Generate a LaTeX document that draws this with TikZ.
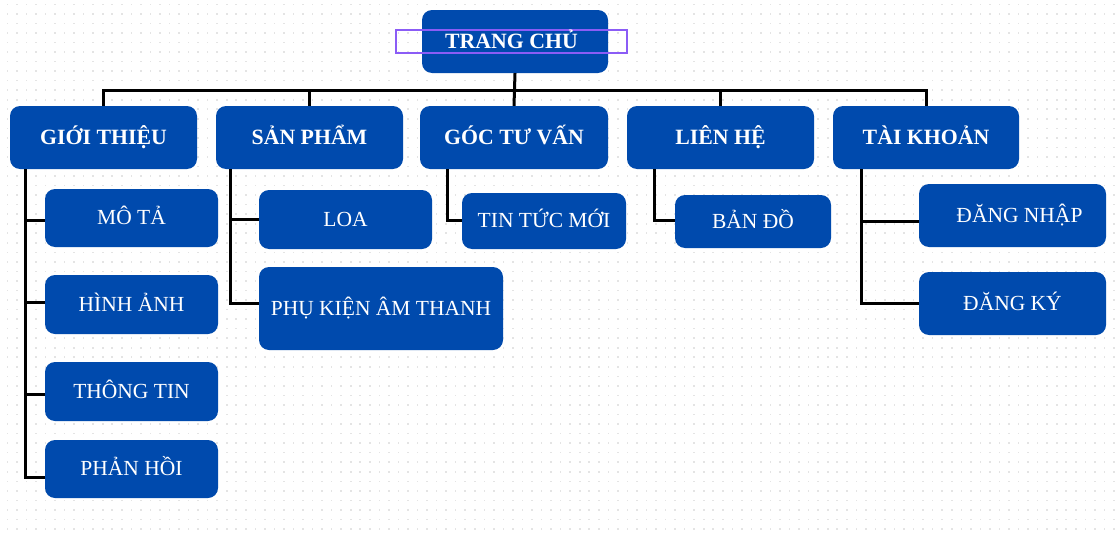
\documentclass[tikz,border=0pt]{standalone}
\usepackage{fontspec}
\setmainfont{Liberation Serif}
\definecolor{boxblue}{RGB}{0,74,173}
\definecolor{selviolet}{RGB}{139,92,246}
\definecolor{dotc}{RGB}{228,228,228}
\tikzset{
  box/.style={fill=boxblue, rounded corners=10pt, inner sep=0pt, text=white, align=center},
  lvl/.style={box, font=\fontsize{21.8}{24}\selectfont\bfseries, text height=14.5pt, text depth=0pt},
  sub/.style={box, font=\fontsize{21.5}{24}\selectfont, text height=13pt, text depth=0pt},
  conn/.style={draw=black, line width=3pt},
  sel/.style={draw=selviolet, line width=2pt, inner sep=0pt}
}
\begin{document}
\begin{tikzpicture}[x=1pt,y=1pt]
\useasboundingbox (0,0) rectangle (1120,-538);
\fill[white] (0,0) rectangle (1120,-538);
% dot grid
\foreach \i in {0,...,116}{
  \foreach \j in {0,...,55}{
    \fill[dotc] ({6.5+9.54*\i},{-3.5-9.54*\j}) rectangle ++(1.6,-1.6);
  }
}
% boxes
\node[lvl, minimum width=186, minimum height=63] (top) at (515,-41.5) {};
\node[lvl, minimum width=187, minimum height=63] (gt) at (103.5,-137.5) {GIỚI THIỆU};
\node[lvl, minimum width=187, minimum height=63] (sp) at (309.5,-137.5) {SẢN PHẨM};
\node[lvl, minimum width=188, minimum height=63] (gtv) at (514,-137.5) {GÓC TƯ VẤN};
\node[lvl, minimum width=187, minimum height=63] (lh) at (720.5,-137.5) {LIÊN HỆ};
\node[lvl, minimum width=186, minimum height=63] (tk) at (926,-137.5) {TÀI KHOẢN};
\node[sub, minimum width=173, minimum height=58] (mota) at (131.5,-218) {MÔ TẢ};
\node[sub, minimum width=173, minimum height=59] (hinh) at (131.5,-304.5) {HÌNH ẢNH};
\node[sub, minimum width=173, minimum height=59] (thong) at (131.5,-391.5) {THÔNG TIN};
\node[sub, minimum width=173, minimum height=58] (phan) at (131.5,-469) {PHẢN HỒI};
\node[sub, minimum width=173, minimum height=59] (loa) at (345.5,-219.5) {LOA};
\node[sub, minimum width=244, minimum height=83] (pk) at (381,-308.5) {PHỤ KIỆN ÂM THANH};
\node[sub, minimum width=164, minimum height=56] (tin) at (544,-221) {TIN TỨC MỚI};
\node[sub, minimum width=156, minimum height=53] (bando) at (753,-221.5) {BẢN ĐỒ};
\node[sub, minimum width=187, minimum height=63] (dn) at (1012.5,-215.5) {\hspace{14pt}ĐĂNG NHẬP};
\node[sub, minimum width=187, minimum height=63] (dk) at (1012.5,-303.5) {ĐĂNG KÝ};
% selection rectangle with title
\node[sel, minimum width=231, minimum height=23, text=white, font=\fontsize{21.8}{24}\selectfont\bfseries, text height=14.5pt, text depth=0pt] (title) at (511.5,-41.5) {TRANG CHỦ};
% connectors
\draw[conn] (gt.north) -- ++(0,15) -| (tk.north);
\draw[conn] (sp.north) -- ++(0,15);
\draw[conn] (lh.north) -- ++(0,15);
\draw[conn] (top.south) -- (gtv.north);
\draw[conn] ([xshift=16]gt.south west) |- ([yshift=-8]phan.west);
\draw[conn] ([xshift=16]gt.south west) |- ([yshift=-2]mota.west);
\draw[conn] ([xshift=16]gt.south west) |- ([yshift=2.5]hinh.west);
\draw[conn] ([xshift=16]gt.south west) |- ([yshift=-2.5]thong.west);
\draw[conn] ([xshift=15]sp.south west) |- (loa.west);
\draw[conn] ([xshift=15]sp.south west) |- ([yshift=5.5]pk.west);
\draw[conn] ([xshift=28]gtv.south west) |- ([yshift=1]tin.west);
\draw[conn] ([xshift=28]lh.south west) |- ([yshift=1.5]bando.west);
\draw[conn] ([xshift=29]tk.south west) |- ([yshift=-6]dn.west);
\draw[conn] ([xshift=29]tk.south west) |- (dk.west);
\end{tikzpicture}
\end{document}
